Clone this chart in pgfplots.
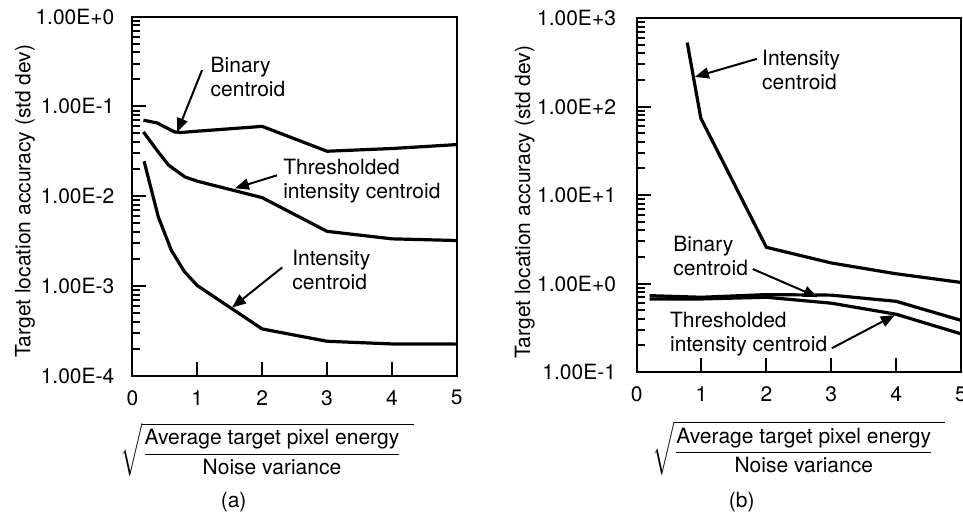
\documentclass[border=0pt]{standalone}
\usepackage{amsmath}
\usepackage{fontspec}
\setmainfont{TeX Gyre Heros}
\usepackage{pgfplots}
\pgfplotsset{compat=1.18}
\usetikzlibrary{arrows.meta}

\newcommand{\sciexp}[1]{\pgfmathtruncatemacro{\myexp}{round(#1/2.302585)}1.00E\ifnum\myexp<0 \myexp\else +\myexp\fi}
\newcommand{\snrlabel}{$\displaystyle\sqrt{\frac{\text{Average target pixel energy}}{\text{Noise variance}}\hspace{6pt}}$}

\pgfplotsset{
  every tick/.style={draw=black, line width=1pt},
  every minor tick/.style={draw=black, line width=0.9pt},
}
\tikzset{
  arr/.style={line width=1pt, -{Triangle[length=7pt,width=5.5pt]}},
  note/.style={anchor=west, align=left, inner sep=0pt},
  tk/.style={line width=1pt},
}

\begin{document}
\begin{tikzpicture}[font=\fontsize{10.5}{12}\selectfont]

% (a)
\begin{axis}[scale only axis, width=162.2pt, height=179.5pt,
    at={(66.2pt,70.15pt)}, anchor=south west,
    ymode=log, xmin=0, xmax=5, ymin=1e-4, ymax=1,
    axis line style={line width=1pt},
    tick align=inside, xtick pos=left, ytick pos=left,
    major tick length=7pt, minor tick length=4pt,
    xtick={0,1,2,3,4,5}, xticklabels={0,1,2,3,4,5},
    x tick label style={yshift=-3.8pt},
    yticklabel={\sciexp{\tick}},
    yticklabel style={xshift=-5.5pt},
    ylabel={Target location accuracy (std dev)},
    xlabel={\snrlabel},
    ylabel style={at={(axis description cs:-0.331,0.486)}, anchor=center},
    xlabel style={at={(axis description cs:0.415,0)}, anchor=center, yshift=-37pt},
    clip=false]
% tick marks on the left and bottom edges
\pgfplotsinvokeforeach{1,2,3,4}{\draw[tk] (axis cs:#1,1e-4) -- (axis cs:#1,1.29e-4);}
\pgfplotsinvokeforeach{1e-3,1e-2,1e-1}{\draw[tk] (axis cs:0,#1) -- (axis cs:0.216,#1);}
\pgfplotsinvokeforeach{2e-4,3e-4,4e-4,5e-4,6e-4,7e-4,8e-4,9e-4,
  2e-3,3e-3,4e-3,5e-3,6e-3,7e-3,8e-3,9e-3,
  2e-2,3e-2,4e-2,5e-2,6e-2,7e-2,8e-2,9e-2,
  0.2,0.3,0.4,0.5,0.6,0.7,0.8,0.9}{\draw[tk] (axis cs:0,#1) -- (axis cs:0.123,#1);}
\addplot[black, line width=1.6pt] coordinates {(0.17,0.0703) (0.38,0.0656) (0.65,0.052) (0.75,0.0513)
  (1,0.053) (2,0.060) (3,0.0317) (4,0.034) (5,0.0376)};
\addplot[black, line width=1.6pt] coordinates {(0.17,0.052) (0.4,0.031) (0.56,0.0221) (0.81,0.0164)
  (1,0.0147) (2,0.00964) (3,0.00406) (4,0.00335) (5,0.00321)};
\addplot[black, line width=1.6pt] coordinates {(0.18,0.0245) (0.4,0.00586) (0.6,0.0025) (0.8,0.00145)
  (1,0.00101) (2,3.32e-4) (3,2.42e-4) (4,2.26e-4) (5,2.25e-4)};
\node[note] at (axis cs:1.2,0.212) {Binary\\centroid};
\draw[arr] (axis cs:1.074,0.254) -- (axis cs:0.689,0.0516);
\node[note] at (axis cs:2.32,0.01486) {Thresholded\\intensity centroid};
\draw[arr] (axis cs:2.23,0.0171) -- (axis cs:1.58,0.01226);
\node[note] at (axis cs:2.46,0.00149) {Intensity\\centroid};
\draw[arr] (axis cs:2.31,0.00161) -- (axis cs:1.536,5.75e-4);
\node at (rel axis cs:0.312,0) [yshift=-63pt] {(a)};
\end{axis}

% (b)
\begin{axis}[scale only axis, width=162.2pt, height=176.9pt,
    at={(318.3pt,72pt)}, anchor=south west,
    ymode=log, xmin=0, xmax=5, ymin=0.1, ymax=1000,
    axis line style={line width=1pt},
    tick align=inside, xtick pos=left, ytick pos=left,
    major tick length=7pt, minor tick length=4pt,
    xtick={0,1,2,3,4,5}, xticklabels={0,1,2,3,4,5},
    x tick label style={yshift=-3.8pt},
    yticklabel={\sciexp{\tick}},
    yticklabel style={xshift=-6.8pt},
    ylabel={Target location accuracy (std dev)},
    xlabel={\snrlabel},
    ylabel style={at={(axis description cs:-0.345,0.48)}, anchor=center},
    xlabel style={at={(axis description cs:0.5,0)}, anchor=center, yshift=-38pt},
    clip=false]
\pgfplotsinvokeforeach{1,2,3,4}{\draw[tk] (axis cs:#1,0.1) -- (axis cs:#1,0.1297);}
\pgfplotsinvokeforeach{1,10,100}{\draw[tk] (axis cs:0,#1) -- (axis cs:0.216,#1);}
\pgfplotsinvokeforeach{0.2,0.3,0.4,0.5,0.6,0.7,0.8,0.9,
  2,3,4,5,6,7,8,9,20,30,40,50,60,70,80,90,
  200,300,400,500,600,700,800,900}{\draw[tk] (axis cs:0,#1) -- (axis cs:0.123,#1);}
\addplot[black, line width=1.6pt] coordinates {(0.78,531) (0.99,74) (2,2.57) (3,1.71) (4,1.29) (5,1.03)};
\addplot[black, line width=1.6pt] coordinates {(0.2,0.73) (1,0.70) (2,0.75) (3,0.74) (4,0.63) (5,0.384)};
\addplot[black, line width=1.6pt] coordinates {(0.2,0.67) (1,0.67) (2,0.70) (3,0.60) (4,0.45) (5,0.27)};
\node[note] at (axis cs:1.93,260) {Intensity\\centroid};
\draw[arr] (axis cs:1.854,347) -- (axis cs:0.898,217);
\node[note] at (axis cs:0.56,2.05) {Binary\\centroid};
\draw[arr] (axis cs:1.79,1.46) -- (axis cs:2.79,0.703);
\node[note] at (axis cs:0.51,0.265) {Thresholded\\intensity centroid};
\draw[arr] (axis cs:3.01,0.186) -- (axis cs:3.98,0.44);
\node at (rel axis cs:0.324,0) [yshift=-65pt] {(b)};
\end{axis}

\pgfresetboundingbox
\useasboundingbox (0,0) rectangle (481.5pt,258pt);
\end{tikzpicture}
\end{document}
